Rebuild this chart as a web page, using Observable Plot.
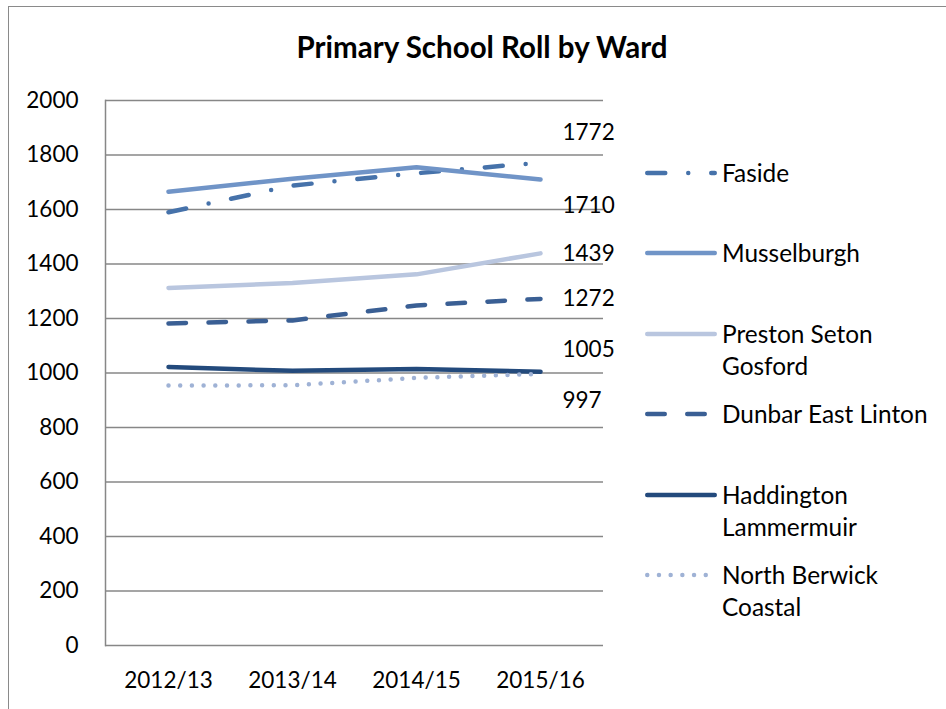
<!DOCTYPE html>
<html><head><meta charset="utf-8">
<script src="https://cdn.jsdelivr.net/npm/d3@7"></script>
<script src="https://cdn.jsdelivr.net/npm/@observablehq/plot@0.6"></script>
<style>
body{margin:0;background:#fff;font-family:Lato,sans-serif;color:#000;}
#wrap{position:relative;width:946px;height:709px;overflow:hidden;}
#frame{position:absolute;left:8px;top:6px;width:960px;height:720px;border-left:1.5px solid #8a8a8a;border-top:1.5px solid #8a8a8a;}
#title{position:absolute;left:0;top:29px;width:964px;text-align:center;font-weight:bold;font-size:29.5px;line-height:36px;}
#chart{position:absolute;left:0;top:0;}
#legend{position:absolute;left:640px;top:157px;}
.entry{position:relative;height:80.4px;}
.entry svg{position:absolute;left:0;top:11px;}
.entry .lab{position:absolute;left:82px;top:0;width:225px;font-size:24.4px;line-height:32px;}
</style>
</head><body>
<div id="wrap">
  <div id="frame"></div>
  <div id="chart"></div>
  <div id="title">Primary School Roll by Ward</div>
  <div id="legend"></div>
</div>
<script>
// ---- data ----
const years = ["2012/13", "2013/14", "2014/15", "2015/16"];
const wards = ["Faside", "Musselburgh", "Preston Seton Gosford", "Dunbar East Linton", "Haddington Lammermuir", "North Berwick Coastal"];
const faside = [1590, 1688, 1733, 1772];
const musselburgh = [1665, 1713, 1755, 1710];
const prestonSetonGosford = [1312, 1330, 1362, 1439];
const dunbarEastLinton = [1182, 1193, 1248, 1272];
const haddingtonLammermuir = [1022, 1008, 1015, 1005];
const northBerwickCoastal = [954, 955, 982, 997];
const yTicks = [0, 200, 400, 600, 800, 1000, 1200, 1400, 1600, 1800, 2000];

// ---- styles ----
const seriesValues = [faside, musselburgh, prestonSetonGosford, dunbarEastLinton, haddingtonLammermuir, northBerwickCoastal];
const colors = ["#4672aa", "#7094c7", "#b9c6df", "#3a5f94", "#234a7c", "#9fb2d5"];
const dashes = ["18,23,0,23", null, null, "17.5,22.5", null, "0,11.7"];
const labelDy = [-30, 26, 0, 0, -22, 27];

const rows = wards.map((w, k) => years.map((y, i) => ({ward: w, year: y, value: seriesValues[k][i]})));

const marks = [
  Plot.ruleY(yTicks, {stroke: "#878787", strokeWidth: 1.5}),
  Plot.frame({anchor: "left", stroke: "#878787", strokeWidth: 1.5}),
  Plot.axisY({ticks: yTicks, tickSize: 0, tickPadding: 27, fontSize: 22.5, tickFormat: d => String(d), label: null}),
  Plot.axisX({tickSize: 0, tickPadding: 27, fontSize: 22.5, label: null})
];
rows.forEach((data, k) => {
  marks.push(Plot.line(data, {
    x: "year", y: "value", stroke: colors[k], strokeWidth: 4.5,
    strokeDasharray: dashes[k] || undefined, strokeLinecap: "round", strokeLinejoin: "round"
  }));
});
rows.forEach((data, k) => {
  marks.push(Plot.text([data[data.length - 1]], {
    x: "year", y: "value", text: d => String(d.value), textAnchor: "start",
    dx: 22, dy: labelDy[k], fontSize: 22.5, fill: "#000"
  }));
});

const chart = Plot.plot({
  width: 946, height: 709,
  marginLeft: 105, marginRight: 343, marginTop: 100, marginBottom: 64,
  style: {fontFamily: "Lato, sans-serif", fontSize: "22px", color: "#000", background: "transparent", overflow: "visible"},
  x: {type: "point", domain: years, padding: 0.5, align: 0.5, label: null},
  y: {domain: [0, 2000], label: null},
  marks
});
document.getElementById("chart").appendChild(chart);

// ---- legend ----
const legend = document.getElementById("legend");
wards.forEach((w, k) => {
  const e = document.createElement("div");
  e.className = "entry";
  const ns = "http://www.w3.org/2000/svg";
  const svg = document.createElementNS(ns, "svg");
  svg.setAttribute("width", 80); svg.setAttribute("height", 10);
  const ln = document.createElementNS(ns, "line");
  ln.setAttribute("x1", 7.25); ln.setAttribute("x2", 74.75);
  ln.setAttribute("y1", 5); ln.setAttribute("y2", 5);
  ln.setAttribute("stroke", colors[k]); ln.setAttribute("stroke-width", 4.5);
  ln.setAttribute("stroke-linecap", "round");
  if (dashes[k]) ln.setAttribute("stroke-dasharray", dashes[k]);
  svg.appendChild(ln);
  e.appendChild(svg);
  const t = document.createElement("div");
  t.className = "lab"; t.textContent = w;
  e.appendChild(t);
  legend.appendChild(e);
});
</script>
</body></html>
